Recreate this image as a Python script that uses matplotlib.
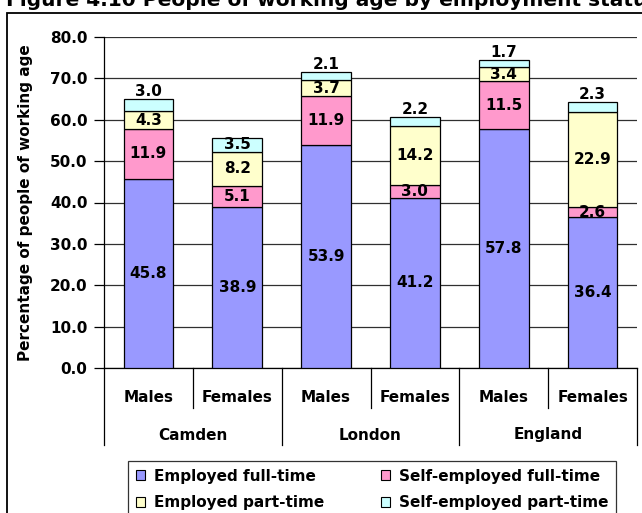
import matplotlib
matplotlib.use("Agg")
import matplotlib.pyplot as plt
import matplotlib.transforms as mtransforms
from matplotlib.patches import Rectangle, Patch
from matplotlib.lines import Line2D

plt.rcParams['font.family'] = ['DejaVu Sans']
plt.rcParams['font.weight'] = 'bold'

# Data
areas = ["Camden", "London", "England"]
sexes = ["Males", "Females"]
series_names = ["Employed full-time", "Self-employed full-time",
                "Employed part-time", "Self-employed part-time"]
employed_full = [45.8, 38.9, 53.9, 41.2, 57.8, 36.4]
self_employed_full = [11.9, 5.1, 11.9, 3.0, 11.5, 2.6]
employed_part = [4.3, 8.2, 3.7, 14.2, 3.4, 22.9]
self_employed_part = [3.0, 3.5, 2.1, 2.2, 1.7, 2.3]
y_ticks = [0, 10, 20, 30, 40, 50, 60, 70, 80]

colors = ["#9999FF", "#FF99CC", "#FFFFCC", "#CCFFFF"]
series = [employed_full, self_employed_full, employed_part, self_employed_part]

W, H = 642, 513
fig = plt.figure(figsize=(W / 100, H / 100), dpi=100)

# Plot area in pixel coordinates
left_px, right_px, top_px, bottom_px = 104, 637, 37, 368
ax = fig.add_axes([left_px / W, 1 - bottom_px / H,
                   (right_px - left_px) / W, (bottom_px - top_px) / H])

n = len(employed_full)
xs = list(range(n))
bar_w = 0.56
bottoms = [0.0] * n
for vals, col in zip(series, colors):
    ax.bar(xs, vals, bar_w, bottom=bottoms, color=col, edgecolor="black",
           linewidth=0.9, zorder=3)
    bottoms = [b + v for b, v in zip(bottoms, vals)]

# Segment labels
fs = 11
cum = [0.0] * n
for si, vals in enumerate(series):
    for i, v in enumerate(vals):
        is_top = si == len(series) - 1
        if is_top and v < 3.5:
            ax.annotate(f"{v:.1f}", (i, cum[i] + v), xytext=(0, 0),
                        textcoords="offset points", ha="center", va="bottom",
                        fontsize=fs, fontweight="bold", zorder=5)
        else:
            ax.text(i, cum[i] + v / 2, f"{v:.1f}", ha="center", va="center",
                    fontsize=fs, fontweight="bold", zorder=5)
    cum = [c + v for c, v in zip(cum, vals)]

ax.set_xlim(-0.5, n - 0.5)
ax.set_ylim(0, 80)
ax.set_yticks(y_ticks)
ax.set_yticklabels([f"{t:.1f}" for t in y_ticks], fontsize=fs, fontweight="bold")
ax.yaxis.grid(True, color="#303030", linewidth=0.9, zorder=0)
ax.set_axisbelow(True)
ax.tick_params(axis="y", direction="out", length=7, width=0.9, pad=5)
ax.tick_params(axis="x", length=0, labelbottom=False)
for side in ["top", "right"]:
    ax.spines[side].set_visible(False)
for side in ["left", "bottom"]:
    ax.spines[side].set_linewidth(0.9)

ax.set_ylabel("Percentage of people of working age", fontsize=fs,
              fontweight="bold")
ax.yaxis.set_label_coords((33 - left_px) / (right_px - left_px), 0.5)

# Two-level category axis
trans = mtransforms.blended_transform_factory(ax.transData, fig.transFigure)
def fy(px):
    return 1 - px / H

for b in [0.5, 2.5, 4.5]:
    ax.add_line(Line2D([b, b], [fy(bottom_px), fy(408)], transform=trans,
                       color="black", linewidth=0.9, clip_on=False))
for b in [-0.5, 1.5, 3.5, 5.5]:
    ax.add_line(Line2D([b, b], [fy(bottom_px), fy(445)], transform=trans,
                       color="black", linewidth=0.9, clip_on=False))
for i in xs:
    ax.text(i, fy(397), sexes[i % 2], transform=trans, ha="center",
            va="center", fontsize=fs, fontweight="bold")
for g, name in enumerate(areas):
    ax.text(2 * g + 0.5, fy(435), name, transform=trans, ha="center",
            va="center", fontsize=fs, fontweight="bold")

# Legend
handles = [Patch(facecolor=c, edgecolor="black", linewidth=0.8) for c in colors]
order = [0, 2, 1, 3]
leg = fig.legend([handles[k] for k in order], [series_names[k] for k in order],
                 ncol=2, loc="upper left",
                 bbox_to_anchor=(128 / W, fy(461)), frameon=True,
                 fancybox=False, edgecolor="black",
                 prop={"weight": "bold", "size": fs},
                 handlelength=0.6, handleheight=0.6, handletextpad=0.6,
                 columnspacing=3.7, labelspacing=0.75, borderpad=0.5,
                 borderaxespad=0)
leg.get_frame().set_linewidth(0.9)

# Outer frame
fig.add_artist(Rectangle((7 / W, -0.1), 1.2, fy(13) + 0.1,
                         transform=fig.transFigure, fill=False,
                         edgecolor="black", linewidth=1.3))

# Title
fig.text(6 / W, fy(6), "Figure 4.10 People of working age by employment status",
         ha="left", va="baseline", fontsize=14.5, fontweight="bold")

fig.savefig("out.png", dpi=100)
